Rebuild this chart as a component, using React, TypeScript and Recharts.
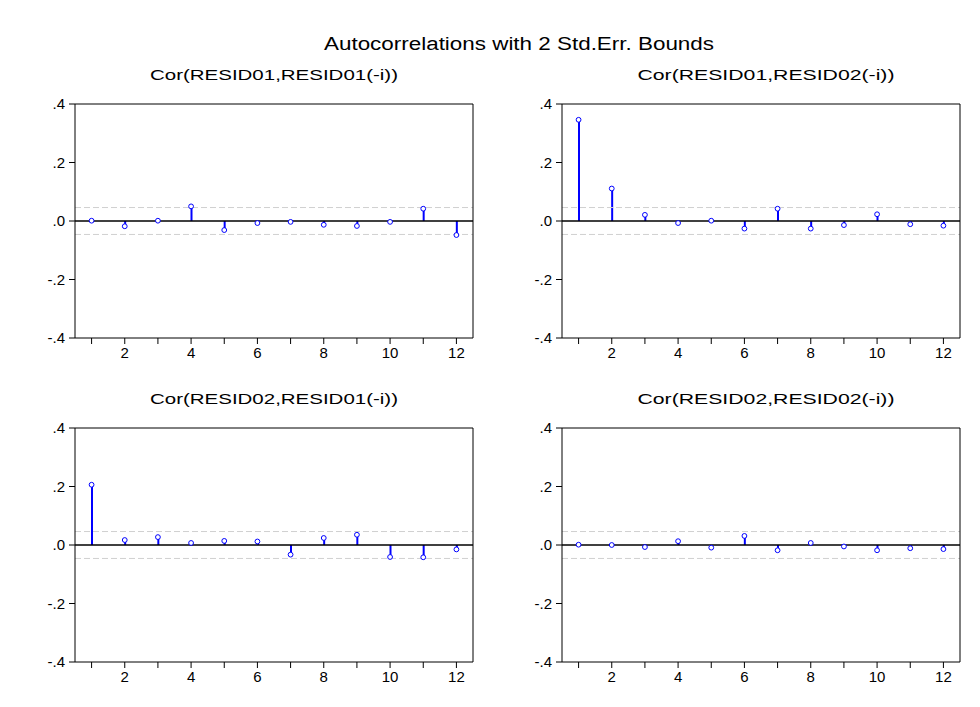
import React from "react";
import { ComposedChart, Bar, Line, XAxis, YAxis, ReferenceLine } from "recharts";

const FONT = "Liberation Sans, Arial, sans-serif";

const lags = [1, 2, 3, 4, 5, 6, 7, 8, 9, 10, 11, 12];
const yTicks = [-0.4, -0.2, 0, 0.2, 0.4];
const bound = 0.046;

const r11 = [0.001, -0.018, 0.001, 0.05, -0.031, -0.007, -0.003, -0.013, -0.017, -0.003, 0.042, -0.048];
const r12 = [0.346, 0.111, 0.021, -0.007, 0.001, -0.026, 0.042, -0.026, -0.014, 0.023, -0.011, -0.016];
const r21 = [0.206, 0.017, 0.027, 0.007, 0.014, 0.012, -0.033, 0.024, 0.035, -0.041, -0.042, -0.015];
const r22 = [0.001, 0.0, -0.007, 0.013, -0.009, 0.031, -0.018, 0.007, -0.005, -0.018, -0.011, -0.014];

const mainTitle = "Autocorrelations with 2 Std.Err. Bounds";
const panelTitles = [
  "Cor(RESID01,RESID01(-i))",
  "Cor(RESID01,RESID02(-i))",
  "Cor(RESID02,RESID01(-i))",
  "Cor(RESID02,RESID02(-i))",
];

const fmtY = (v: number) => {
  if (v === 0) return ".0";
  return (v < 0 ? "-" : "") + Math.abs(v).toFixed(1).replace(/^0/, "");
};

const TICK = { fill: "#000", fontSize: 15, fontFamily: FONT };

function Panel({ values, left, top }: { values: number[]; left: number; top: number }) {
  const rows = lags.map((lag, i) => ({ lag, v: values[i] }));
  return (
    <div style={{ position: "absolute", left, top }}>
      <ComposedChart width={490} height={278} data={rows} margin={{ top: 13, right: 16, bottom: 0, left: 30 }}>
        <XAxis
          xAxisId="b"
          dataKey="lag"
          height={30}
          interval={0}
          tick={TICK}
          tickSize={6}
          tickMargin={3}
          tickLine={{ stroke: "#000" }}
          axisLine={{ stroke: "#000" }}
          tickFormatter={(v: number) => (v % 2 === 0 ? String(v) : "")}
        />
        <XAxis xAxisId="t" dataKey="lag" orientation="top" height={1} tick={false} tickLine={false} axisLine={{ stroke: "#000" }} />
        <YAxis
          yAxisId="l"
          domain={[-0.4, 0.4]}
          ticks={yTicks}
          width={45}
          tick={TICK}
          tickSize={6}
          tickMargin={4}
          tickLine={{ stroke: "#000" }}
          axisLine={{ stroke: "#000" }}
          tickFormatter={fmtY}
        />
        <YAxis yAxisId="r" orientation="right" domain={[-0.4, 0.4]} width={1} tick={false} tickLine={false} axisLine={{ stroke: "#000" }} />
        <ReferenceLine xAxisId="b" yAxisId="l" y={bound} stroke="#d0d0d0" strokeDasharray="6 3" />
        <ReferenceLine xAxisId="b" yAxisId="l" y={-bound} stroke="#d0d0d0" strokeDasharray="6 3" />
        <ReferenceLine xAxisId="b" yAxisId="l" y={0} stroke="#000" strokeWidth={1.5} />
        <Bar xAxisId="b" yAxisId="l" dataKey="v" barSize={2} fill="#0000ff" isAnimationActive={false} />
        <Line
          xAxisId="b"
          yAxisId="l"
          dataKey="v"
          stroke="none"
          dot={{ r: 2.4, stroke: "#0000ff", strokeWidth: 1, fill: "#fff" }}
          activeDot={false}
          isAnimationActive={false}
        />
      </ComposedChart>
    </div>
  );
}

export default function App() {
  return (
    <div style={{ position: "absolute", left: 0, top: 0, width: 980, height: 707, background: "#fff", fontFamily: FONT }}>
      <svg width={980} height={707} style={{ position: "absolute", left: 0, top: 0 }}>
        <text x={519} y={50} textAnchor="middle" fontSize={18} fontFamily={FONT} textLength={390} lengthAdjust="spacingAndGlyphs">
          {mainTitle}
        </text>
        <text x={274} y={80} textAnchor="middle" fontSize={15} fontFamily={FONT} textLength={248} lengthAdjust="spacingAndGlyphs">
          {panelTitles[0]}
        </text>
        <text x={766} y={80} textAnchor="middle" fontSize={15} fontFamily={FONT} textLength={257} lengthAdjust="spacingAndGlyphs">
          {panelTitles[1]}
        </text>
        <text x={274} y={404} textAnchor="middle" fontSize={15} fontFamily={FONT} textLength={248} lengthAdjust="spacingAndGlyphs">
          {panelTitles[2]}
        </text>
        <text x={766} y={404} textAnchor="middle" fontSize={15} fontFamily={FONT} textLength={257} lengthAdjust="spacingAndGlyphs">
          {panelTitles[3]}
        </text>
      </svg>
      <Panel values={r11} left={0} top={90} />
      <Panel values={r12} left={487} top={90} />
      <Panel values={r21} left={0} top={414} />
      <Panel values={r22} left={487} top={414} />
    </div>
  );
}
